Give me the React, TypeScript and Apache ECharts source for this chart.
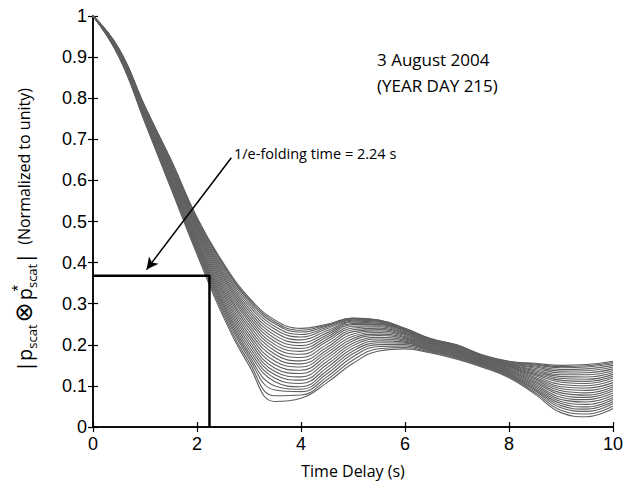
import React, { useEffect, useRef } from "react";
import * as echarts from "echarts";

// Time delay sample positions (s)
const timeDelay = [0, 0.5, 1, 1.5, 2, 2.5, 3, 3.5, 4, 4.5, 5, 5.5, 6, 6.5, 7, 7.5, 8, 8.5, 9, 9.5, 10];

const curve01 = [1, 0.92, 0.78, 0.65, 0.51, 0.4, 0.315, 0.26, 0.24, 0.25, 0.265, 0.26, 0.24, 0.215, 0.2, 0.175, 0.16, 0.155, 0.15, 0.152, 0.16];
const curve02 = [1, 0.9195, 0.779, 0.6485, 0.508, 0.397, 0.311, 0.2555, 0.2355, 0.248, 0.2645, 0.2595, 0.2395, 0.214, 0.199, 0.174, 0.159, 0.153, 0.147, 0.149, 0.157];
const curve03 = [1, 0.919, 0.778, 0.647, 0.506, 0.394, 0.307, 0.251, 0.231, 0.246, 0.264, 0.259, 0.239, 0.213, 0.198, 0.1735, 0.158, 0.151, 0.144, 0.146, 0.154];
const curve04 = [1, 0.9185, 0.7765, 0.6445, 0.5025, 0.389, 0.301, 0.2445, 0.225, 0.2425, 0.262, 0.258, 0.2385, 0.212, 0.197, 0.172, 0.1565, 0.1485, 0.14, 0.1415, 0.15];
const curve05 = [1, 0.918, 0.775, 0.642, 0.499, 0.384, 0.295, 0.238, 0.219, 0.239, 0.26, 0.257, 0.238, 0.211, 0.196, 0.171, 0.155, 0.146, 0.136, 0.137, 0.146];
const curve06 = [1, 0.917, 0.7735, 0.639, 0.4955, 0.379, 0.2885, 0.2305, 0.212, 0.234, 0.2575, 0.255, 0.237, 0.2095, 0.1945, 0.17, 0.1535, 0.143, 0.1315, 0.132, 0.1415];
const curve07 = [1, 0.916, 0.772, 0.636, 0.492, 0.374, 0.282, 0.223, 0.205, 0.229, 0.255, 0.253, 0.236, 0.208, 0.193, 0.169, 0.152, 0.14, 0.127, 0.127, 0.137];
const curve08 = [1, 0.915, 0.7705, 0.633, 0.4885, 0.369, 0.2755, 0.2155, 0.198, 0.224, 0.252, 0.251, 0.2345, 0.2065, 0.1915, 0.168, 0.1505, 0.137, 0.1225, 0.1215, 0.1325];
const curve09 = [1, 0.914, 0.769, 0.63, 0.485, 0.364, 0.269, 0.208, 0.191, 0.219, 0.249, 0.249, 0.233, 0.205, 0.19, 0.167, 0.149, 0.134, 0.118, 0.116, 0.128];
const curve10 = [1, 0.9135, 0.7675, 0.6275, 0.4815, 0.3585, 0.2625, 0.2005, 0.184, 0.2135, 0.245, 0.2465, 0.231, 0.2035, 0.1885, 0.1655, 0.1475, 0.131, 0.1135, 0.111, 0.1235];
const curve11 = [1, 0.913, 0.766, 0.625, 0.478, 0.353, 0.256, 0.193, 0.177, 0.208, 0.241, 0.244, 0.229, 0.202, 0.187, 0.164, 0.146, 0.128, 0.109, 0.106, 0.119];
const curve12 = [1, 0.912, 0.764, 0.622, 0.474, 0.3475, 0.2485, 0.185, 0.169, 0.201, 0.2365, 0.2405, 0.227, 0.2005, 0.1855, 0.163, 0.144, 0.1245, 0.1035, 0.1005, 0.1135];
const curve13 = [1, 0.911, 0.762, 0.619, 0.47, 0.342, 0.241, 0.177, 0.161, 0.194, 0.232, 0.237, 0.225, 0.199, 0.184, 0.1615, 0.142, 0.121, 0.098, 0.095, 0.108];
const curve14 = [1, 0.91, 0.76, 0.6155, 0.4655, 0.336, 0.2335, 0.1685, 0.1535, 0.1875, 0.2265, 0.2335, 0.2225, 0.1975, 0.1825, 0.16, 0.14, 0.118, 0.093, 0.089, 0.103];
const curve15 = [1, 0.909, 0.758, 0.612, 0.461, 0.33, 0.226, 0.16, 0.146, 0.181, 0.221, 0.23, 0.22, 0.196, 0.181, 0.159, 0.138, 0.115, 0.088, 0.083, 0.098];
const curve16 = [1, 0.908, 0.7565, 0.609, 0.457, 0.324, 0.2185, 0.1515, 0.138, 0.174, 0.2155, 0.226, 0.2175, 0.1945, 0.1795, 0.1575, 0.1365, 0.1115, 0.083, 0.0775, 0.093];
const curve17 = [1, 0.907, 0.755, 0.606, 0.453, 0.318, 0.211, 0.143, 0.13, 0.167, 0.21, 0.2225, 0.215, 0.193, 0.178, 0.156, 0.135, 0.108, 0.078, 0.072, 0.088];
const curve18 = [1, 0.9065, 0.753, 0.603, 0.449, 0.312, 0.2035, 0.135, 0.122, 0.1595, 0.204, 0.218, 0.212, 0.1915, 0.1765, 0.1545, 0.133, 0.1045, 0.0725, 0.0665, 0.0825];
const curve19 = [1, 0.906, 0.751, 0.6, 0.445, 0.306, 0.196, 0.127, 0.114, 0.152, 0.198, 0.214, 0.209, 0.19, 0.175, 0.153, 0.131, 0.101, 0.067, 0.061, 0.077];
const curve20 = [1, 0.905, 0.7495, 0.5965, 0.441, 0.3005, 0.1885, 0.1185, 0.106, 0.1445, 0.1915, 0.2095, 0.2065, 0.1885, 0.1735, 0.152, 0.1295, 0.0975, 0.062, 0.055, 0.072];
const curve21 = [1, 0.904, 0.748, 0.593, 0.437, 0.295, 0.181, 0.11, 0.098, 0.137, 0.185, 0.205, 0.204, 0.187, 0.172, 0.151, 0.128, 0.094, 0.057, 0.049, 0.067];
const curve22 = [1, 0.903, 0.746, 0.59, 0.433, 0.289, 0.174, 0.1, 0.092, 0.1295, 0.178, 0.2005, 0.2005, 0.1855, 0.1705, 0.1495, 0.126, 0.091, 0.052, 0.0435, 0.062];
const curve23 = [1, 0.902, 0.744, 0.587, 0.429, 0.283, 0.167, 0.09, 0.086, 0.122, 0.171, 0.196, 0.197, 0.184, 0.169, 0.148, 0.124, 0.088, 0.047, 0.038, 0.057];
const curve24 = [1, 0.901, 0.742, 0.5835, 0.4245, 0.2765, 0.1585, 0.076, 0.078, 0.115, 0.163, 0.1905, 0.1935, 0.182, 0.167, 0.1465, 0.122, 0.084, 0.041, 0.0315, 0.051];
const curve25 = [1, 0.9, 0.74, 0.58, 0.42, 0.27, 0.15, 0.062, 0.07, 0.108, 0.155, 0.185, 0.19, 0.18, 0.165, 0.145, 0.12, 0.08, 0.035, 0.025, 0.045];

const curves = [
  curve01, curve02, curve03, curve04, curve05, curve06, curve07, curve08, curve09, curve10,
  curve11, curve12, curve13, curve14, curve15, curve16, curve17, curve18, curve19, curve20,
  curve21, curve22, curve23, curve24, curve25,
];

// e-folding marker
const efoldTime = 2.24;
const efoldLevel = 0.368;
const arrowFrom = [2.66, 0.655];
const arrowTo = [1.03, 0.383];

const annotationText = "1/e-folding time = 2.24 s";
const dateLines = ["3 August 2004", "(YEAR DAY 215)"];
const xAxisTitle = "Time Delay (s)";

export default function App() {
  const ref = useRef<HTMLDivElement>(null);

  useEffect(() => {
    if (!ref.current) return;
    document.body.style.margin = "0";
    const chart = echarts.init(ref.current, null, { renderer: "svg" });

    const numFont = "'Liberation Sans', Arial, sans-serif";
    const textFont = "'Open Sans', 'Noto Sans', sans-serif";

    const curveSeries = curves.map((c, k) => ({
      type: "line",
      name: "curve" + k,
      data: timeDelay.map((t, i) => [t, c[i]]),
      showSymbol: false,
      smooth: 0.45,
      silent: true,
      lineStyle: { color: "#606060", width: 1.1 },
      z: 2,
    }));

    const boxSeries = {
      type: "line",
      name: "efold",
      data: [
        [0, efoldLevel],
        [efoldTime, efoldLevel],
        [efoldTime, 0],
      ],
      showSymbol: false,
      silent: true,
      lineStyle: { color: "#000", width: 2.5 },
      z: 5,
      markLine: {
        silent: true,
        animation: false,
        symbolSize: [9, 12],
        label: { show: false },
        lineStyle: { color: "#000", width: 1.5, type: "solid" },
        data: [
          [
            { coord: arrowFrom, symbol: "none" },
            { coord: arrowTo, symbol: "arrow" },
          ],
        ],
      },
    };

    const commonTickAxis = {
      axisLine: { show: true, lineStyle: { color: "#000", width: 1.5 } },
      axisTick: { show: true, inside: true, length: 5, lineStyle: { color: "#000", width: 1.2 } },
      splitLine: { show: false },
    };

    chart.setOption({
      animation: false,
      backgroundColor: "#fff",
      grid: { left: 93, right: 11, top: 16, bottom: 60, containLabel: false },
      xAxis: [
        {
          type: "value",
          min: 0,
          max: 10,
          interval: 2,
          position: "bottom",
          ...commonTickAxis,
          axisLabel: { color: "#000", fontSize: 18, fontFamily: numFont, margin: 8 },
          name: xAxisTitle,
          nameLocation: "middle",
          nameGap: 36,
          nameTextStyle: { color: "#000", fontSize: 16, fontFamily: textFont },
        },
        {
          type: "value",
          min: 0,
          max: 10,
          interval: 2,
          position: "top",
          ...commonTickAxis,
          axisLabel: { show: false },
        },
      ],
      yAxis: [
        {
          type: "value",
          min: 0,
          max: 1,
          interval: 0.1,
          position: "left",
          ...commonTickAxis,
          axisLabel: { color: "#000", fontSize: 18, fontFamily: numFont, margin: 6 },
        },
        {
          type: "value",
          min: 0,
          max: 1,
          interval: 0.1,
          position: "right",
          ...commonTickAxis,
          axisLabel: { show: false },
        },
      ],
      series: [...curveSeries, boxSeries],
      graphic: [
        {
          type: "text",
          left: 234,
          top: 146,
          style: {
            text: annotationText,
            fontSize: 14.5,
            fontFamily: textFont,
            fill: "#000",
          },
        },
        {
          type: "text",
          left: 377,
          top: 46,
          style: {
            text: dateLines.join("\n"),
            fontSize: 17,
            lineHeight: 26,
            fontFamily: textFont,
            fill: "#000",
          },
        },
        {
          type: "text",
          x: 24,
          y: 230,
          rotation: Math.PI / 2,
          style: {
            text:
              "{m||p}{sub|scat}{o|⊗}{m|p}{sup|*}{sub|scat}{m||}{g| }{n|(Normalized to unity)}",
            align: "center",
            verticalAlign: "middle",
            fill: "#000",
            rich: {
              m: { fontSize: 20, fontFamily: textFont, lineHeight: 28, verticalAlign: "middle", fill: "#000" },
              o: { fontSize: 24, fontFamily: "'DejaVu Sans', sans-serif", lineHeight: 28, verticalAlign: "middle", fill: "#000", padding: [0, 2, 0, 2] },
              sub: { fontSize: 13, fontFamily: textFont, lineHeight: 13, verticalAlign: "bottom", fill: "#000" },
              sup: { fontSize: 16, fontFamily: numFont, lineHeight: 10, verticalAlign: "top", fill: "#000", width: 0 },
              g: { fontSize: 16, lineHeight: 28, width: 8 },
              n: { fontSize: 16, fontFamily: textFont, lineHeight: 28, verticalAlign: "middle", fill: "#000" },
            },
          },
        },
      ],
    });

    return () => chart.dispose();
  }, []);

  return <div ref={ref} style={{ width: 626, height: 487 }} />;
}
